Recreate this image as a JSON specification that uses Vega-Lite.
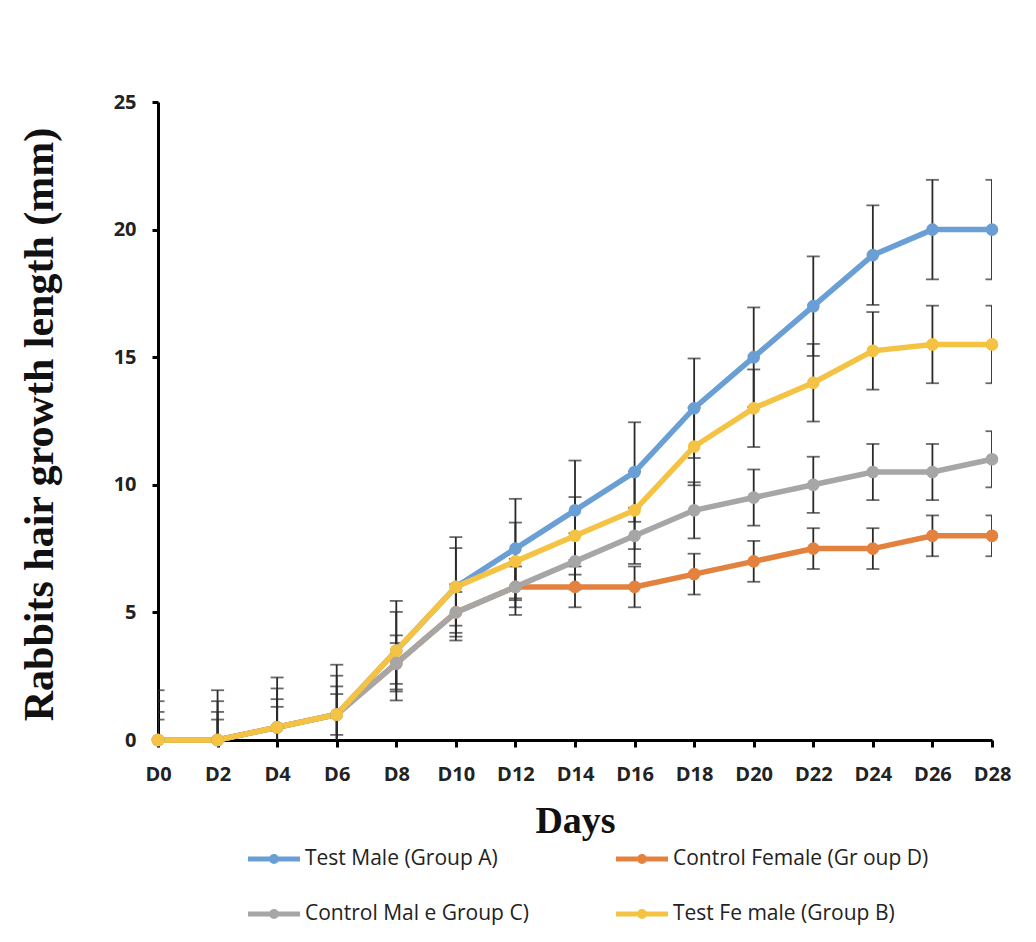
{
  "$schema": "https://vega.github.io/schema/vega-lite/v6.json",
  "width": 834,
  "height": 638,
  "autosize": "none",
  "padding": {"left": 158, "top": 102, "right": 44, "bottom": 202},
  "background": "white",
  "config": {"view": {"stroke": null}},
  "data": {"values": [
    {"day": "D0", "group": "Test Male (Group A)", "value": 0, "lo": -1.95, "hi": 1.95},
    {"day": "D2", "group": "Test Male (Group A)", "value": 0, "lo": -1.95, "hi": 1.95},
    {"day": "D4", "group": "Test Male (Group A)", "value": 0.5, "lo": -1.45, "hi": 2.45},
    {"day": "D6", "group": "Test Male (Group A)", "value": 1, "lo": -0.95, "hi": 2.95},
    {"day": "D8", "group": "Test Male (Group A)", "value": 3.5, "lo": 1.55, "hi": 5.45},
    {"day": "D10", "group": "Test Male (Group A)", "value": 6, "lo": 4.05, "hi": 7.95},
    {"day": "D12", "group": "Test Male (Group A)", "value": 7.5, "lo": 5.55, "hi": 9.45},
    {"day": "D14", "group": "Test Male (Group A)", "value": 9, "lo": 7.05, "hi": 10.95},
    {"day": "D16", "group": "Test Male (Group A)", "value": 10.5, "lo": 8.55, "hi": 12.45},
    {"day": "D18", "group": "Test Male (Group A)", "value": 13, "lo": 11.05, "hi": 14.95},
    {"day": "D20", "group": "Test Male (Group A)", "value": 15, "lo": 13.05, "hi": 16.95},
    {"day": "D22", "group": "Test Male (Group A)", "value": 17, "lo": 15.05, "hi": 18.95},
    {"day": "D24", "group": "Test Male (Group A)", "value": 19, "lo": 17.05, "hi": 20.95},
    {"day": "D26", "group": "Test Male (Group A)", "value": 20, "lo": 18.05, "hi": 21.95},
    {"day": "D28", "group": "Test Male (Group A)", "value": 20, "lo": 18.05, "hi": 21.95},

    {"day": "D0", "group": "Control Female (Gr oup D)", "value": 0, "lo": -0.8, "hi": 0.8},
    {"day": "D2", "group": "Control Female (Gr oup D)", "value": 0, "lo": -0.8, "hi": 0.8},
    {"day": "D4", "group": "Control Female (Gr oup D)", "value": 0.5, "lo": -0.3, "hi": 1.3},
    {"day": "D6", "group": "Control Female (Gr oup D)", "value": 1, "lo": 0.2, "hi": 1.8},
    {"day": "D8", "group": "Control Female (Gr oup D)", "value": 3, "lo": 2.2, "hi": 3.8},
    {"day": "D10", "group": "Control Female (Gr oup D)", "value": 5, "lo": 4.2, "hi": 5.8},
    {"day": "D12", "group": "Control Female (Gr oup D)", "value": 6, "lo": 5.2, "hi": 6.8},
    {"day": "D14", "group": "Control Female (Gr oup D)", "value": 6, "lo": 5.2, "hi": 6.8},
    {"day": "D16", "group": "Control Female (Gr oup D)", "value": 6, "lo": 5.2, "hi": 6.8},
    {"day": "D18", "group": "Control Female (Gr oup D)", "value": 6.5, "lo": 5.7, "hi": 7.3},
    {"day": "D20", "group": "Control Female (Gr oup D)", "value": 7, "lo": 6.2, "hi": 7.8},
    {"day": "D22", "group": "Control Female (Gr oup D)", "value": 7.5, "lo": 6.7, "hi": 8.3},
    {"day": "D24", "group": "Control Female (Gr oup D)", "value": 7.5, "lo": 6.7, "hi": 8.3},
    {"day": "D26", "group": "Control Female (Gr oup D)", "value": 8, "lo": 7.2, "hi": 8.8},
    {"day": "D28", "group": "Control Female (Gr oup D)", "value": 8, "lo": 7.2, "hi": 8.8},

    {"day": "D0", "group": "Control Mal e Group C)", "value": 0, "lo": -1.1, "hi": 1.1},
    {"day": "D2", "group": "Control Mal e Group C)", "value": 0, "lo": -1.1, "hi": 1.1},
    {"day": "D4", "group": "Control Mal e Group C)", "value": 0.5, "lo": -0.6, "hi": 1.6},
    {"day": "D6", "group": "Control Mal e Group C)", "value": 1, "lo": -0.1, "hi": 2.1},
    {"day": "D8", "group": "Control Mal e Group C)", "value": 3, "lo": 1.9, "hi": 4.1},
    {"day": "D10", "group": "Control Mal e Group C)", "value": 5, "lo": 3.9, "hi": 6.1},
    {"day": "D12", "group": "Control Mal e Group C)", "value": 6, "lo": 4.9, "hi": 7.1},
    {"day": "D14", "group": "Control Mal e Group C)", "value": 7, "lo": 5.9, "hi": 8.1},
    {"day": "D16", "group": "Control Mal e Group C)", "value": 8, "lo": 6.9, "hi": 9.1},
    {"day": "D18", "group": "Control Mal e Group C)", "value": 9, "lo": 7.9, "hi": 10.1},
    {"day": "D20", "group": "Control Mal e Group C)", "value": 9.5, "lo": 8.4, "hi": 10.6},
    {"day": "D22", "group": "Control Mal e Group C)", "value": 10, "lo": 8.9, "hi": 11.1},
    {"day": "D24", "group": "Control Mal e Group C)", "value": 10.5, "lo": 9.4, "hi": 11.6},
    {"day": "D26", "group": "Control Mal e Group C)", "value": 10.5, "lo": 9.4, "hi": 11.6},
    {"day": "D28", "group": "Control Mal e Group C)", "value": 11, "lo": 9.9, "hi": 12.1},

    {"day": "D0", "group": "Test Fe male (Group B)", "value": 0, "lo": -1.52, "hi": 1.52},
    {"day": "D2", "group": "Test Fe male (Group B)", "value": 0, "lo": -1.52, "hi": 1.52},
    {"day": "D4", "group": "Test Fe male (Group B)", "value": 0.5, "lo": -1.02, "hi": 2.02},
    {"day": "D6", "group": "Test Fe male (Group B)", "value": 1, "lo": -0.52, "hi": 2.52},
    {"day": "D8", "group": "Test Fe male (Group B)", "value": 3.5, "lo": 1.98, "hi": 5.02},
    {"day": "D10", "group": "Test Fe male (Group B)", "value": 6, "lo": 4.48, "hi": 7.52},
    {"day": "D12", "group": "Test Fe male (Group B)", "value": 7, "lo": 5.48, "hi": 8.52},
    {"day": "D14", "group": "Test Fe male (Group B)", "value": 8, "lo": 6.48, "hi": 9.52},
    {"day": "D16", "group": "Test Fe male (Group B)", "value": 9, "lo": 7.48, "hi": 10.52},
    {"day": "D18", "group": "Test Fe male (Group B)", "value": 11.5, "lo": 9.98, "hi": 13.02},
    {"day": "D20", "group": "Test Fe male (Group B)", "value": 13, "lo": 11.48, "hi": 14.52},
    {"day": "D22", "group": "Test Fe male (Group B)", "value": 14, "lo": 12.48, "hi": 15.52},
    {"day": "D24", "group": "Test Fe male (Group B)", "value": 15.25, "lo": 13.73, "hi": 16.77},
    {"day": "D26", "group": "Test Fe male (Group B)", "value": 15.5, "lo": 13.98, "hi": 17.02},
    {"day": "D28", "group": "Test Fe male (Group B)", "value": 15.5, "lo": 13.98, "hi": 17.02}
  ]},
  "encoding": {
    "x": {
      "field": "day", "type": "ordinal",
      "sort": ["D0","D2","D4","D6","D8","D10","D12","D14","D16","D18","D20","D22","D24","D26","D28"],
      "scale": {"type": "point", "padding": 0},
      "axis": {
        "title": "Days", "labelAngle": 0,
        "titleFont": "Liberation Serif", "titleFontSize": 38, "titleFontWeight": "bold", "titleColor": "#111",
        "titleBaseline": "alphabetic", "titleY": 92,
        "labelFont": "Open Sans", "labelFontSize": 20, "labelFontWeight": "bold", "labelColor": "#222",
        "labelPadding": 17, "tickSize": 7, "tickWidth": 3, "tickColor": "black",
        "domainColor": "black", "domainWidth": 3, "grid": false
      }
    },
    "y": {
      "type": "quantitative",
      "scale": {"domain": [0, 25], "nice": false},
      "axis": {
        "title": "Rabbits hair growth length (mm)", "values": [0,5,10,15,20,25],
        "titleFont": "Liberation Serif", "titleFontSize": 42, "titleFontWeight": "bold", "titleColor": "#111",
        "titleAngle": -90, "titleBaseline": "alphabetic", "titleX": -106, "titleY": 322, "titleAlign": "center",
        "labelFont": "Open Sans", "labelFontSize": 20, "labelFontWeight": "bold", "labelColor": "#222",
        "labelPadding": 16, "tickSize": 6, "tickWidth": 3, "tickColor": "black",
        "domainColor": "black", "domainWidth": 3, "grid": false
      }
    }
  },
  "layer": [
    {
      "mark": {"type": "rule", "color": "#2a2a2a", "strokeWidth": 1.8, "clip": true},
      "encoding": {"y": {"field": "lo", "type": "quantitative"}, "y2": {"field": "hi"}}
    },
    {
      "mark": {"type": "tick", "color": "#2a2a2a", "thickness": 1.8, "size": 13, "clip": true, "orient": "horizontal"},
      "encoding": {"y": {"field": "lo", "type": "quantitative"}}
    },
    {
      "mark": {"type": "tick", "color": "#2a2a2a", "thickness": 1.8, "size": 13, "clip": true, "orient": "horizontal"},
      "encoding": {"y": {"field": "hi", "type": "quantitative"}}
    },
    {
      "mark": {"type": "line", "strokeWidth": 5.5},
      "encoding": {
        "y": {"field": "value", "type": "quantitative"},
        "color": {"field": "group", "type": "nominal",
          "scale": {"domain": ["Test Male (Group A)", "Control Female (Gr oup D)", "Control Mal e Group C)", "Test Fe male (Group B)"],
                    "range": ["#6A9FD5", "#E3823E", "#A6A6A6", "#F5C343"]},
          "legend": {
            "title": null, "orient": "none", "legendX": 90, "legendY": 731,
            "direction": "horizontal", "columns": 2, "gridAlign": "all",
            "columnPadding": 55, "rowPadding": 19,
            "symbolType": "M-1,-0.1L1,-0.1L1,0.1L-1,0.1Z M-0.19,0A0.19,0.19,0,1,1,0.19,0A0.19,0.19,0,1,1,-0.19,0Z",
            "symbolSize": 2704, "symbolStrokeWidth": 0, "symbolOpacity": 1,
            "labelFont": "Open Sans", "labelFontSize": 21, "labelColor": "#222", "labelOffset": 5, "labelLimit": 400
          }
        }
      }
    },
    {
      "mark": {"type": "point", "filled": true, "opacity": 1, "size": 160},
      "encoding": {
        "y": {"field": "value", "type": "quantitative"},
        "color": {"field": "group", "type": "nominal",
          "scale": {"domain": ["Test Male (Group A)", "Control Female (Gr oup D)", "Control Mal e Group C)", "Test Fe male (Group B)"],
                    "range": ["#6A9FD5", "#E3823E", "#A6A6A6", "#F5C343"]},
          "legend": {
            "title": null, "orient": "none", "legendX": 90, "legendY": 731,
            "direction": "horizontal", "columns": 2, "gridAlign": "all",
            "columnPadding": 55, "rowPadding": 19,
            "symbolType": "M-1,-0.1L1,-0.1L1,0.1L-1,0.1Z M-0.19,0A0.19,0.19,0,1,1,0.19,0A0.19,0.19,0,1,1,-0.19,0Z",
            "symbolSize": 2704, "symbolStrokeWidth": 0, "symbolOpacity": 1,
            "labelFont": "Open Sans", "labelFontSize": 21, "labelColor": "#222", "labelOffset": 5, "labelLimit": 400
          }
        }
      }
    }
  ]
}
